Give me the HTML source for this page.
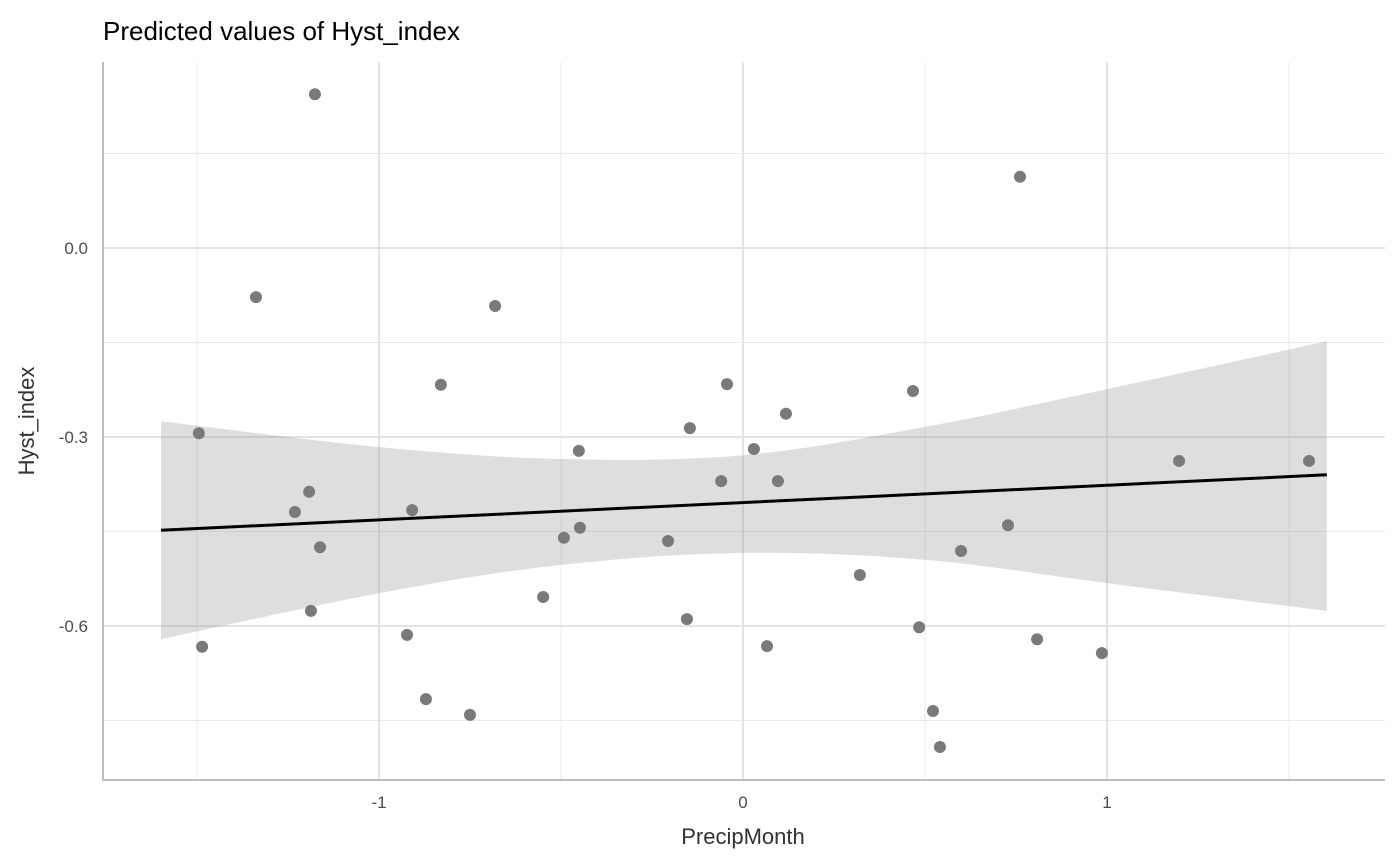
<!DOCTYPE html>
<html><head><meta charset="utf-8"><style>
html,body{margin:0;padding:0;background:#fff;}
svg{display:block;font-family:"Liberation Sans",Arial,sans-serif;}
</style></head><body>
<svg id="chart" width="1400" height="865" viewBox="0 0 1400 865">
<text x="103" y="40" font-size="26" fill="#000">Predicted values of Hyst_index</text>
<g id="grid"></g>
<g id="ribbon"></g>
<g id="points"></g>
<g id="fit"></g>
<g id="axes"></g>
<text x="743" y="844" font-size="22" fill="#333" text-anchor="middle">PrecipMonth</text>
<text transform="translate(34,421) rotate(-90)" font-size="22" fill="#333" text-anchor="middle">Hyst_index</text>
</svg>
<script>
const xTicks=[-1,0,1];
const xTickLabels=["-1","0","1"];
const xMinor=[-1.5,-0.5,0.5,1.5];
const yTicks=[0,-0.3,-0.6];
const yTickLabels=["0.0","-0.3","-0.6"];
const yMinor=[0.15,-0.15,-0.45,-0.75];
const pointX=[-1.176,0.761,-1.338,-0.681,-0.830,-0.044,0.467,0.118,-1.495,-0.146,-0.451,0.030,1.198,1.555,-0.060,0.096,-1.192,-1.231,-0.909,0.728,-0.448,-0.492,-0.206,-1.162,0.599,0.321,-0.549,-1.187,-0.154,0.484,-0.923,0.808,-1.486,0.066,0.986,-0.871,-0.750,0.522,0.541];
const pointY=[0.244,0.113,-0.078,-0.092,-0.217,-0.216,-0.227,-0.263,-0.294,-0.286,-0.322,-0.319,-0.338,-0.338,-0.370,-0.370,-0.387,-0.419,-0.416,-0.440,-0.444,-0.460,-0.465,-0.475,-0.481,-0.519,-0.554,-0.576,-0.589,-0.602,-0.614,-0.621,-0.633,-0.632,-0.643,-0.716,-0.741,-0.735,-0.792];
const fitX=[-1.599,1.604];
const fitY=[-0.448,-0.360];
const bandX=[-1.599,-1,-0.5,0,0.5,1,1.604];
const bandUpper=[-0.275,-0.316,-0.335,-0.329,-0.284,-0.224,-0.148];
const bandLower=[-0.621,-0.548,-0.503,-0.484,-0.495,-0.532,-0.576];

const L=103,R=1385,T=62,B=780;
const sx=v=>743+v*364;
const sy=v=>248-v*630;
const NS="http://www.w3.org/2000/svg";
function mk(tag,parent,attrs){const e=document.createElementNS(NS,tag);for(const k in attrs)e.setAttribute(k,attrs[k]);parent.appendChild(e);return e;}
const grid=document.getElementById('grid');
xMinor.forEach(v=>{const e=mk('line',grid,{x1:sx(v),x2:sx(v),y1:T,y2:B,stroke:'#ebebeb','stroke-width':1});

});
yMinor.forEach(v=>{const e=mk('line',grid,{x1:L,x2:R,y1:sy(v),y2:sy(v),stroke:'#ebebeb','stroke-width':1});

});
xTicks.forEach(v=>{const e=mk('line',grid,{x1:sx(v),x2:sx(v),y1:T,y2:B,stroke:'#e3e3e3','stroke-width':2});

});
yTicks.forEach(v=>{const e=mk('line',grid,{x1:L,x2:R,y1:sy(v),y2:sy(v),stroke:'#e3e3e3','stroke-width':2});

});

// smooth band via Catmull-Rom
function smooth(xs,ys){const p=xs.map((x,i)=>[sx(x),sy(ys[i])]);let d='';
for(let i=0;i<p.length-1;i++){const p0=p[Math.max(0,i-1)],p1=p[i],p2=p[i+1],p3=p[Math.min(p.length-1,i+2)];
const c1=[p1[0]+(p2[0]-p0[0])/6,p1[1]+(p2[1]-p0[1])/6],c2=[p2[0]-(p3[0]-p1[0])/6,p2[1]-(p3[1]-p1[1])/6];
d+=(i===0?'':'')+` C${c1[0]},${c1[1]} ${c2[0]},${c2[1]} ${p2[0]},${p2[1]}`;}
return {start:p[0],d};}
const up=smooth(bandX,bandUpper);
const lo=smooth(bandX.slice().reverse(),bandLower.slice().reverse());
const band=mk('path',document.getElementById('ribbon'),{d:`M${up.start[0]},${up.start[1]}${up.d} L${lo.start[0]},${lo.start[1]}${lo.d} Z`,fill:'#999','fill-opacity':0.32});



const pts=document.getElementById('points');
pointX.forEach((x,i)=>{const c=mk('circle',pts,{cx:sx(x),cy:sy(pointY[i]),r:6,fill:'#7a7a7a'});

});

const fl=mk('line',document.getElementById('fit'),{x1:sx(fitX[0]),y1:sy(fitY[0]),x2:sx(fitX[1]),y2:sy(fitY[1]),stroke:'#000','stroke-width':3});



const ax=document.getElementById('axes');
const ya=mk('line',ax,{x1:L,x2:L,y1:T,y2:B+1,stroke:'#bdbdbd','stroke-width':2});


const xa=mk('line',ax,{x1:L-1,x2:R,y1:B,y2:B,stroke:'#bdbdbd','stroke-width':2});


xTicks.forEach((v,i)=>{const t=mk('text',ax,{x:sx(v),y:808,'font-size':17,fill:'#4d4d4d','text-anchor':'middle'});t.textContent=xTickLabels[i];

});
yTicks.forEach((v,i)=>{const t=mk('text',ax,{x:88,y:sy(v)+6,'font-size':17,fill:'#4d4d4d','text-anchor':'end'});t.textContent=yTickLabels[i];

});
</script>
</body></html>
